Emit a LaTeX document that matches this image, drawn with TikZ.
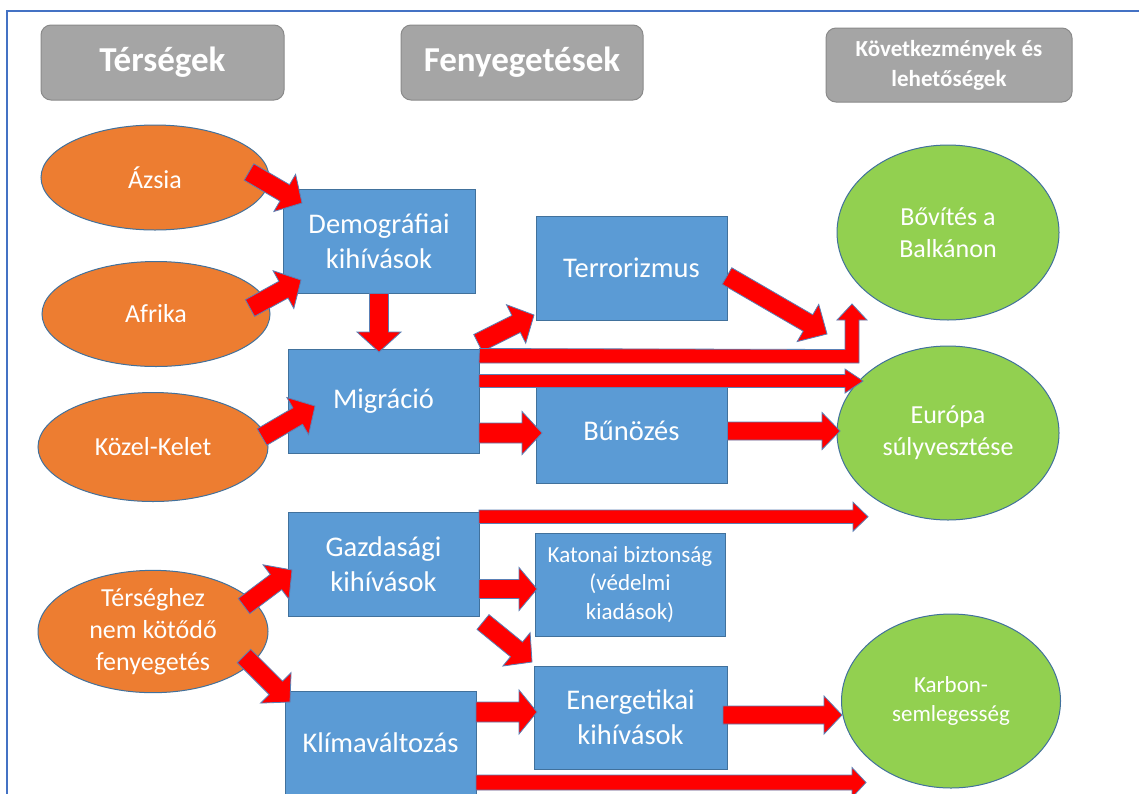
\documentclass[tikz,border=0pt]{standalone}
\usepackage{fontspec}
\setmainfont{Carlito}
\usetikzlibrary{shapes.geometric,calc}
\definecolor{orng}{HTML}{ED7D31}
\definecolor{blu}{HTML}{5B9BD5}
\definecolor{grn}{HTML}{92D050}
\definecolor{shapeedge}{HTML}{41719C}
\definecolor{hdr}{HTML}{A5A5A5}
\definecolor{hdredge}{HTML}{8A8A8A}
\definecolor{framecol}{HTML}{4472C4}
\definecolor{arredge}{HTML}{5A7FB5}
\newcommand\fbody{\fontsize{28.5}{35}\selectfont}
\newcommand\fell{\fontsize{26}{32}\selectfont}
\newcommand\fsmall{\fontsize{23}{28.5}\selectfont}
\newcommand\fhead{\fontsize{35}{40}\selectfont\bfseries}
\newcommand\fheadsm{\fontsize{23}{30}\selectfont\bfseries}
\newcommand\blockarrow[5]{%
  \coordinate (bahead) at ($(#2)!#5!(#1)$);
  \draw[redarrow] ($(#1)!#3!90:(#2)$) -- ($(bahead)!#3!90:(#2)$) -- ($(bahead)!#4!90:(#2)$) -- (#2)
    -- ($(bahead)!#4!-90:(#2)$) -- ($(bahead)!#3!-90:(#2)$) -- ($(#1)!#3!-90:(#2)$) -- cycle;}
\tikzset{
  hdrbox/.style={rectangle, rounded corners=10pt, fill=hdr, draw=hdredge, line width=1pt, text=white, align=center, inner sep=0pt},
  bluebox/.style={rectangle, fill=blu, draw=shapeedge, line width=1pt, text=white, align=center, inner sep=0pt, font=\fbody},
  orell/.style={ellipse, fill=orng, draw=shapeedge, line width=1pt, text=white, align=center, inner sep=0pt, font=\fell},
  grell/.style={ellipse, fill=grn, draw=shapeedge, line width=1pt, text=white, align=center, inner sep=0pt, font=\fell},
  redarrow/.style={fill=red, draw=arredge, line width=0.8pt, line join=miter},
  framestyle/.style={draw=framecol, line width=2.2pt},
}
\begin{document}
\begin{tikzpicture}[x=1pt,y=-1pt]
\useasboundingbox (0,0) rectangle (1139,793);
\clip (0,0) rectangle (1139,793);
\fill[white] (0,0) rectangle (1139,793);
\draw[framestyle] (7,800) -- (7,11) -- (1145,11);

% headers
\node[hdrbox, minimum width=243pt, minimum height=75pt, font=\fhead] (h1) at (162.5,62.5) {Térségek};
\node[hdrbox, minimum width=242pt, minimum height=75pt, font=\fhead] (h2) at (522,62.5) {Fenyegetések};
\node[hdrbox, minimum width=246pt, minimum height=74pt, font=\fheadsm] (h3) at (949,65) {Következmények és\\lehetőségek};

% orange ellipses
\node[orell, minimum width=228pt, minimum height=105pt] (azsia) at (155,177.5) {Ázsia};
\node[orell, minimum width=228pt, minimum height=105pt] (afrika) at (156,314) {Afrika};
\node[orell, minimum width=230pt, minimum height=109pt] (kozel) at (153,447) {Közel-Kelet};
\node[orell, minimum width=230pt, minimum height=109pt] (ters) at (153,631.5) {Térséghez\\nem kötődő\\fenyegetés};

% blue boxes
\node[bluebox, minimum width=192pt, minimum height=104pt] (demo) at (379,241) {Demográfiai\\kihívások};
\node[bluebox, minimum width=191pt, minimum height=104pt] (migr) at (383.5,401) {Migráció};
\node[bluebox, minimum width=191pt, minimum height=104pt] (terror) at (631.5,268) {Terrorizmus};
\node[bluebox, minimum width=191pt, minimum height=104pt] (bun) at (631.5,431) {Bűnözés};
\node[bluebox, minimum width=191pt, minimum height=104pt] (gazd) at (383.5,564) {Gazdasági\\kihívások};
\node[bluebox, minimum width=191pt, minimum height=104pt] (klima) at (380.5,743) {Klímaváltozás};
\node[bluebox, minimum width=190pt, minimum height=103pt, font=\fsmall] (kat) at (630,584.5) {Katonai biztonság\\(védelmi\\kiadások)};
\node[bluebox, minimum width=193pt, minimum height=103pt] (ener) at (630.5,717.5) {Energetikai\\kihívások};

% green ellipses
\node[grell, minimum width=222pt, minimum height=175pt] (bov) at (948,232.5) {Bővítés a\\Balkánon};
\node[grell, minimum width=222pt, minimum height=174pt] (eur) at (948,433) {Európa\\súlyvesztése};
\node[grell, minimum width=219pt, minimum height=174pt, font=\fsmall] (karb) at (951,701) {Karbon-\\semlegesség};

% arrow end points
\coordinate (a1s) at (249,172);   \coordinate (a1e) at (302,203);
\coordinate (a2s) at (250,308);   \coordinate (a2e) at (301,280);
\coordinate (a3s) at (demo.south); \coordinate (a3e) at (379,352);
\coordinate (a4s) at (262,437);   \coordinate (a4e) at (315,406);
\coordinate (a5s) at (478,343);   \coordinate (a5e) at (534,315);
\coordinate (a6s) at (727,276);   \coordinate (a6e) at (827,334);
\coordinate (a8s) at (479,381);   \coordinate (a8e) at (863,381);
\coordinate (a9s) at (479,433);   \coordinate (a9e) at (542,433);
\coordinate (a10s) at (bun.east); \coordinate (a10e) at (840,431);
\coordinate (a11s) at (479,516.7); \coordinate (a11e) at (868,516.7);
\coordinate (a12s) at (479,589);  \coordinate (a12e) at (537,589);
\coordinate (a13s) at (483,622);  \coordinate (a13e) at (532,662);
\coordinate (a14s) at (244,606);  \coordinate (a14e) at (292,570);
\coordinate (a15s) at (244,656);  \coordinate (a15e) at (290,702);
\coordinate (a16s) at (476,712);  \coordinate (a16e) at (537,712);
\coordinate (a17s) at (723,715);  \coordinate (a17e) at (842,715);
\coordinate (a18s) at (476,782.5); \coordinate (a18e) at (866,782.5);

\blockarrow{a1s}{a1e}{9.5pt}{21.5pt}{20pt}
\blockarrow{a2s}{a2e}{9.5pt}{21.5pt}{20pt}
\blockarrow{a3s}{a3e}{9.5pt}{22pt}{20pt}
\blockarrow{a4s}{a4e}{9.5pt}{21.5pt}{20pt}
\blockarrow{a5s}{a5e}{9.5pt}{21.5pt}{20pt}
\blockarrow{a6s}{a6e}{9.5pt}{21.5pt}{22pt}
\blockarrow{a8s}{a8e}{6.5pt}{12pt}{18pt}
\blockarrow{a9s}{a9e}{10pt}{21.5pt}{20pt}
\blockarrow{a10s}{a10e}{9pt}{18.5pt}{18pt}
\blockarrow{a11s}{a11e}{6.7pt}{14.5pt}{15pt}
\blockarrow{a12s}{a12e}{9.5pt}{21.5pt}{18pt}
\blockarrow{a13s}{a13e}{9.5pt}{21.5pt}{20pt}
\blockarrow{a14s}{a14e}{9.5pt}{21.5pt}{20pt}
\blockarrow{a15s}{a15e}{9.5pt}{21.5pt}{20pt}
\blockarrow{a16s}{a16e}{10pt}{22pt}{18pt}
\blockarrow{a17s}{a17e}{9pt}{19pt}{18pt}
\blockarrow{a18s}{a18e}{7.5pt}{15pt}{14pt}

% bent arrow Migráció -> Bővítés
\coordinate (b7s) at (migr.north east);
\coordinate (b7e) at (852,304);
\draw[redarrow] (b7s) -- (845,349.5) -- (845,320) -- (837,320) -- (b7e) -- (867,320) -- (859,320) -- (859,363) -- (479,363) -- cycle;
\end{tikzpicture}
\end{document}
